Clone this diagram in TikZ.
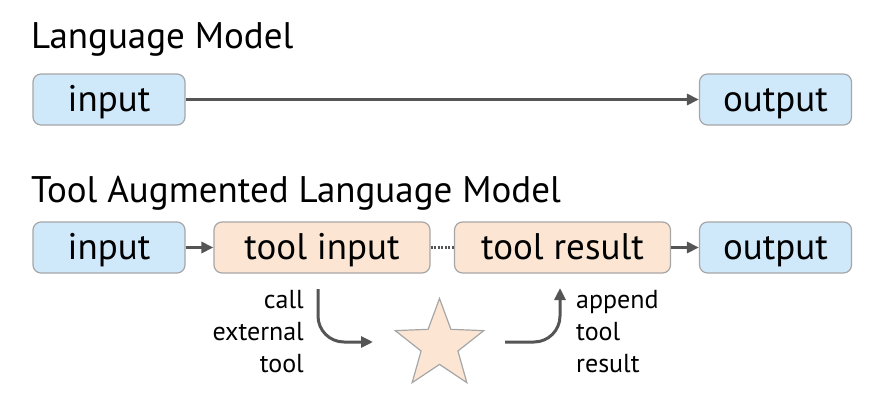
\documentclass[tikz,border=0pt]{standalone}
\usepackage{fontspec}
\setmainfont{PT Sans}
\usetikzlibrary{arrows.meta,shapes.geometric}
\definecolor{lmblue}{HTML}{CFE9FB}
\definecolor{toolpeach}{HTML}{FCE6D3}
\definecolor{edgegray}{HTML}{A6A6A6}
\definecolor{linegray}{HTML}{555555}
\begin{document}
\begin{tikzpicture}[
        x=1pt, y=-1pt,
        title/.style={anchor=base west, inner sep=0pt, font=\fontsize{37}{44}\selectfont},
        block/.style={rectangle, draw=edgegray, line width=1.2pt, rounded corners=8pt, minimum height=51pt, inner sep=0pt, text height=28pt, text depth=4pt, font=\fontsize{37}{44}\selectfont},
        lmbox/.style={block, fill=lmblue, minimum width=152pt},
        toolbox/.style={block, fill=toolpeach, minimum width=216pt},
        note/.style={inner sep=0pt, font=\fontsize{26}{32}\selectfont},
        arrow/.style={-{Triangle[length=12pt,width=11pt]}, line width=3pt, draw=linegray},
        link/.style={line width=3pt, draw=linegray, dash pattern=on 2pt off 1.5pt}
    ]
    \useasboundingbox (0,0) rectangle (885,415);
    % Plain model
    \node[title] (lmtitle) at (31,48) {Language Model};
    \node[lmbox] (in1) at (109,99.5) {input};
    \node[lmbox] (out1) at (775.5,99.5) {output};
    \draw[arrow] (in1) -- (out1);

    % Tool augmented model
    \node[title] (taltitle) at (31,202) {Tool Augmented Language Model};
    \node[lmbox] (in2) at (109,247.5) {input};
    \node[toolbox] (tin) at (322,247.5) {tool input};
    \node[toolbox] (tres) at (562.5,247.5) {tool result};
    \node[lmbox] (out2) at (775.5,247.5) {output};
    \draw[arrow] (in2) -- (tin);
    \draw[link] (tin) -- (tres);
    \draw[arrow] (tres) -- (out2);

    % External tool
    \node[star, star points=5, star point ratio=2.4, minimum size=93pt, inner sep=0pt,
          fill=toolpeach, draw=edgegray, line width=1.2pt] (tool) at (439.5,345) {};
    \coordinate (callbeg) at (318,289);
    \coordinate (callend) at (373,342);
    \coordinate (retbeg) at (505,342);
    \coordinate (retend) at (560,288);
    \draw[arrow, rounded corners=26pt] (callbeg) |- (callend);
    \draw[arrow, rounded corners=26pt] (retbeg) -| (retend);
    \node[note, align=right, anchor=east] (calltxt) at (304,332) {call\\external\\tool};
    \node[note, align=left, anchor=west] (apptxt) at (576,332) {append\\tool\\result};
\end{tikzpicture}
\end{document}
